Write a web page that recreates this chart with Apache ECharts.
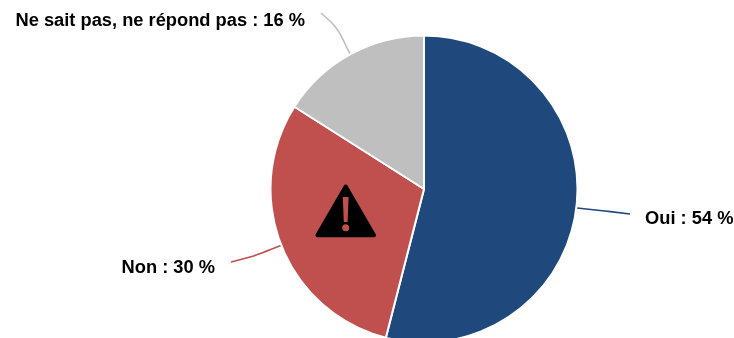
<!DOCTYPE html>
<html><head><meta charset="utf-8">
<style>html,body{margin:0;padding:0;background:#fff}#c{width:734px;height:338px}</style>
<script src="https://cdn.jsdelivr.net/npm/echarts@6/dist/echarts.min.js"></script>
</head><body><div id="c"></div>
<script>
const categories = ['Oui', 'Non', 'Ne sait pas, ne répond pas'];
const values = [54, 30, 16];
const colors = ['#1F497D', '#C0504D', '#BFBFBF'];
const labelAnchors = [
  {x: 645, y: 219, align: 'left', pts: [[577, 208], [605, 211], [630, 214]]},
  {x: 215, y: 268, align: 'right', pts: [[282, 245], [252, 257], [231, 262]]},
  {x: 305, y: 21, align: 'right', pts: [[350, 54], [337, 27], [321, 13]]}
];
const chart = echarts.init(document.getElementById('c'), null, {renderer: 'canvas'});
chart.setOption({
  animation: false,
  backgroundColor: '#fff',
  series: [{
    type: 'pie',
    center: [424, 189],
    radius: [0, 153.5],
    startAngle: 90,
    clockwise: true,
    silent: true,
    data: categories.map((n, i) => ({
      name: n, value: values[i],
      itemStyle: {color: colors[i]},
      labelLine: {lineStyle: {color: colors[i], width: 1.6}}
    })),
    itemStyle: {borderColor: '#fff', borderWidth: 2},
    label: {
      show: true,
      formatter: p => p.name + ' : ' + p.value + ' %',
      fontFamily: '"Liberation Sans", Arial, sans-serif',
      fontWeight: 'bold', fontSize: 18.3, color: '#000'
    },
    labelLine: {show: true, smooth: 0.3},
    labelLayout: p => {
      const a = labelAnchors[p.dataIndex];
      return {x: a.x, y: a.y, align: a.align, verticalAlign: 'middle', labelLinePoints: a.pts};
    }
  }],
  graphic: [
    {type: 'polygon', shape: {points: [[345.7, 186.5], [374, 235.3], [317.4, 235.3]]},
     style: {fill: '#000', stroke: '#000', lineWidth: 4, lineJoin: 'round'}, z: 100},
    {type: 'polygon', shape: {points: [[342.8, 197], [348.6, 197], [347.6, 222], [343.8, 222]]},
     style: {fill: '#C0504D'}, z: 101},
    {type: 'circle', shape: {cx: 345.7, cy: 227.7, r: 3.5},
     style: {fill: '#C0504D'}, z: 101}
  ]
});
</script></body></html>
